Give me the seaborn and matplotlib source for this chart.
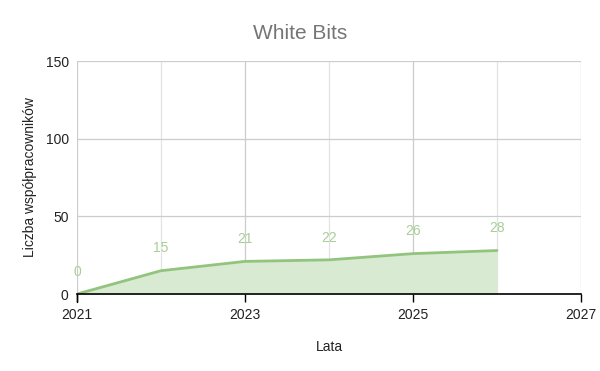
import matplotlib
matplotlib.use("Agg")
import matplotlib.pyplot as plt
import seaborn as sns
import pandas as pd
from matplotlib.ticker import MultipleLocator

years = [2021, 2022, 2023, 2024, 2025, 2026]
values = [0, 15, 21, 22, 26, 28]
x_ticks = [2021, 2023, 2025, 2027]
y_ticks = [0, 50, 100, 150]

df = pd.DataFrame({"Lata": years, "Liczba": values})

sns.set_theme(style="white")
plt.rcParams['font.family'] = ['Liberation Sans', 'DejaVu Sans']

fig = plt.figure(figsize=(6, 3.71), dpi=100)
ax = fig.add_axes([0.1283, 0.2075, 0.84, 0.628])

line_c = "#93c47d"
fill_c = "#d9ead3"
ax.fill_between(df["Lata"], df["Liczba"], 0, color=fill_c, zorder=1, linewidth=0)
sns.lineplot(data=df, x="Lata", y="Liczba", ax=ax, color=line_c, linewidth=2, zorder=3)

for xv, yv in zip(years, values):
    ax.annotate(str(yv), (xv, yv), xytext=(0, 11), textcoords="offset points",
                ha="center", va="bottom", color="#a8cf96", fontsize=10)

ax.set_xlim(2021, 2027)
ax.set_ylim(0, 150)
ax.set_xticks(x_ticks)
ax.set_xticklabels([str(t) for t in x_ticks])
ax.xaxis.set_minor_locator(MultipleLocator(1))
ax.set_yticks(y_ticks)

ax.grid(True, which="major", axis="both", color="#cccccc", linewidth=0.9, zorder=0)
ax.grid(True, which="minor", axis="x", color="#e4e4e4", linewidth=0.9, zorder=0)
ax.set_axisbelow(True)

for s in ["top", "right", "left"]:
    ax.spines[s].set_visible(False)
ax.spines["bottom"].set_color("#000000")
ax.spines["bottom"].set_linewidth(1.2)
ax.spines["bottom"].set_zorder(4)

ax.tick_params(axis="x", which="major", bottom=True, length=6, width=1, color="#000000",
               labelsize=10, labelcolor="#222222", pad=4)
ax.tick_params(axis="x", which="minor", bottom=False)
ax.tick_params(axis="y", left=True, length=0, labelsize=10, labelcolor="#222222", pad=6)
ax.plot([2021, 2021], [0, -5], color="#000000", linewidth=1, clip_on=False, zorder=5)

ax.set_xlabel("Lata", fontsize=10, color="#222222", labelpad=13)
ax.set_ylabel("Liczba współpracowników", fontsize=10, color="#222222", labelpad=6)
fig.suptitle("White Bits", x=0.5, y=0.935, fontsize=15, color="#757575")

fig.savefig("out.png", dpi=100, facecolor="white")
